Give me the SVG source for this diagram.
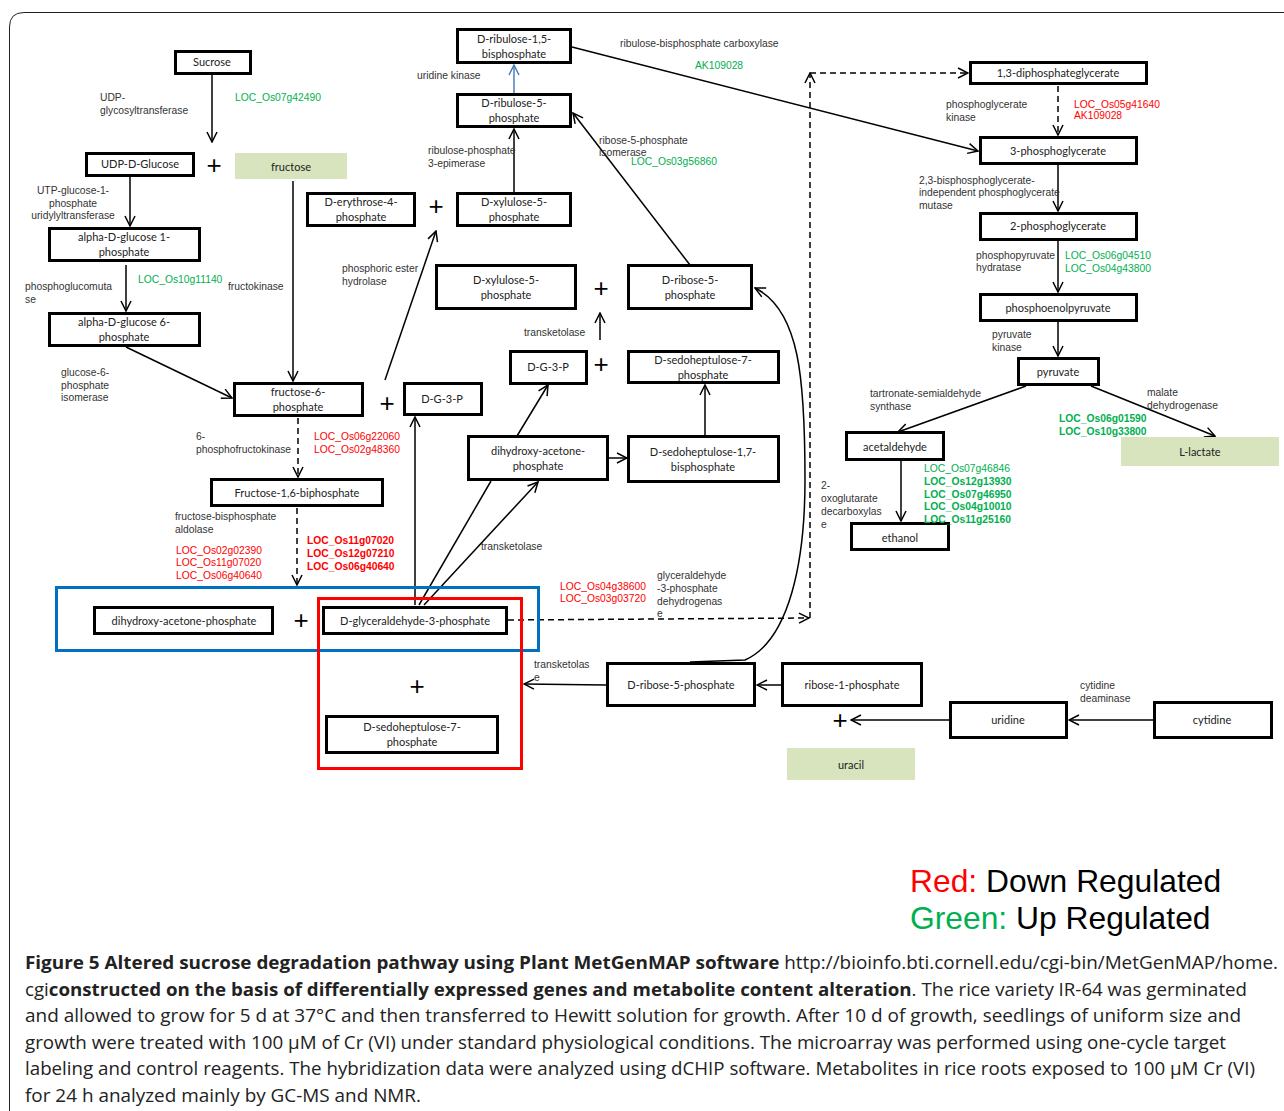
<svg xmlns="http://www.w3.org/2000/svg" width="1284" height="1111" viewBox="0 0 1284 1111">
<defs>
<marker id="ah" viewBox="0 0 12 12" refX="11" refY="6" markerWidth="12" markerHeight="12" orient="auto" markerUnits="userSpaceOnUse">
<path d="M1,1 L11,6 L1,11" fill="none" stroke="#000" stroke-width="1.5"/>
</marker>
<marker id="ahb" viewBox="0 0 12 12" refX="11" refY="6" markerWidth="12" markerHeight="12" orient="auto" markerUnits="userSpaceOnUse">
<path d="M1,1 L11,6 L1,11" fill="none" stroke="#4a7ebb" stroke-width="1.5"/>
</marker>
<style>
.box{fill:#fff;stroke:#000;stroke-width:3}
.gbox{fill:#d7e4bd;stroke:none}
.nt{font-family:Lato,"Liberation Sans",sans-serif;font-size:11px;fill:#222;text-anchor:middle}
.lb{font-family:"Liberation Sans",Arial,sans-serif;font-size:10.3px;fill:#333}
.g{font-family:"Liberation Sans",Arial,sans-serif;font-size:10.3px;fill:#00b050}
.r{font-family:"Liberation Sans",Arial,sans-serif;font-size:10.3px;fill:#ff0000}
.b{font-weight:bold}
.ln{fill:none;stroke:#000;stroke-width:1.5}
.dl{fill:none;stroke:#000;stroke-width:1.5;stroke-dasharray:6,4}
.plus{font-family:"Liberation Sans",Arial,sans-serif;font-size:26px;fill:#000;text-anchor:middle}
.cap{font-family:"Open Sans","Liberation Sans",sans-serif;font-size:18px;fill:#222}
</style>
</defs>
<rect width="1284" height="1111" fill="#fff"/>
<path d="M9.5,1111 L9.5,27 Q9.5,12.5 24,12.5 L1284,12.5" fill="none" stroke="#222" stroke-width="1"/>

<g id="connectors">
<line class="ln" x1="212" y1="74" x2="212" y2="142" marker-end="url(#ah)"/>
<line class="ln" x1="130" y1="176" x2="130" y2="226" marker-end="url(#ah)"/>
<line class="ln" x1="126" y1="265" x2="126" y2="311" marker-end="url(#ah)"/>
<line class="ln" x1="126" y1="347" x2="232" y2="398" marker-end="url(#ah)"/>
<line class="ln" x1="293" y1="181" x2="293" y2="381" marker-end="url(#ah)"/>
<line class="dl" x1="298" y1="418" x2="298" y2="477" marker-end="url(#ah)"/>
<line class="dl" x1="297" y1="508" x2="297" y2="585" marker-end="url(#ah)"/>
<line class="ln" x1="415" y1="605" x2="415" y2="417" marker-end="url(#ah)"/>
<line class="ln" x1="385" y1="380" x2="436" y2="231" marker-end="url(#ah)"/>
<line class="ln" x1="514" y1="192" x2="514" y2="129" marker-end="url(#ah)"/>
<line x1="514" y1="93" x2="514" y2="65" stroke="#4a7ebb" stroke-width="1.5" marker-end="url(#ahb)"/>
<line class="ln" x1="690" y1="265" x2="573" y2="113" marker-end="url(#ah)"/>
<line class="ln" x1="572" y1="47" x2="978" y2="151" marker-end="url(#ah)"/>
<line class="dl" x1="1058" y1="86" x2="1058" y2="135" marker-end="url(#ah)"/>
<line class="ln" x1="1058" y1="165" x2="1058" y2="211" marker-end="url(#ah)"/>
<line class="ln" x1="1058" y1="241" x2="1058" y2="292" marker-end="url(#ah)"/>
<line class="ln" x1="1058" y1="322" x2="1058" y2="356" marker-end="url(#ah)"/>
<line class="ln" x1="1026" y1="386" x2="898" y2="432" marker-end="url(#ah)"/>
<line class="ln" x1="1091" y1="386" x2="1215" y2="436" marker-end="url(#ah)"/>
<line class="ln" x1="901" y1="461" x2="901" y2="521" marker-end="url(#ah)"/>
<line class="dl" x1="508" y1="620" x2="809" y2="618" marker-end="url(#ah)"/>
<line class="dl" x1="810" y1="618" x2="810" y2="73" marker-end="url(#ah)"/>
<line class="dl" x1="810" y1="73" x2="968" y2="73" marker-end="url(#ah)"/>
<line class="ln" x1="419" y1="605" x2="491" y2="481"/>
<line class="ln" x1="517" y1="436" x2="548" y2="385" marker-end="url(#ah)"/>
<line class="ln" x1="424" y1="605" x2="538" y2="482" marker-end="url(#ah)"/>
<line class="ln" x1="609" y1="458" x2="627" y2="458" marker-end="url(#ah)"/>
<line class="ln" x1="705" y1="436" x2="705" y2="385" marker-end="url(#ah)"/>
<line class="ln" x1="600" y1="340" x2="600" y2="313" marker-end="url(#ah)"/>
<path class="ln" d="M690,662 L745,660 C790,640 805,560 805,480 C805,380 800,310 755,288" marker-end="url(#ah)"/>
<line class="ln" x1="606" y1="685" x2="524" y2="684" marker-end="url(#ah)"/>
<line class="ln" x1="781" y1="685" x2="757" y2="685" marker-end="url(#ah)"/>
<line class="ln" x1="1153" y1="720" x2="1069" y2="720" marker-end="url(#ah)"/>
<line class="ln" x1="949" y1="720" x2="851" y2="720" marker-end="url(#ah)"/>
</g>

<g id="n-sucrose"><rect class="box" x="175.5" y="51.5" width="75" height="22"/><text class="nt" x="212" y="66">Sucrose</text></g>
<g id="n-udpglucose"><rect class="box" x="86.5" y="153.5" width="107" height="22"/><text class="nt" x="140" y="168">UDP-D-Glucose</text></g>
<g id="n-fructose"><rect class="gbox" x="235" y="153" width="112" height="26"/><text class="nt" x="291" y="171">fructose</text></g>
<g id="n-ag1p"><rect class="box" x="49.5" y="228.5" width="150" height="32"/><text class="nt" x="124" y="241">alpha-D-glucose 1-</text><text class="nt" x="124" y="256">phosphate</text></g>
<g id="n-ag6p"><rect class="box" x="49.5" y="313.5" width="150" height="32"/><text class="nt" x="124" y="326">alpha-D-glucose 6-</text><text class="nt" x="124" y="341">phosphate</text></g>
<g id="n-f6p"><rect class="box" x="234.5" y="383.5" width="128" height="32"/><text class="nt" x="298" y="396">fructose-6-</text><text class="nt" x="298" y="411">phosphate</text></g>
<g id="n-dg3p1"><rect class="box" x="404.5" y="383.5" width="77" height="31"/><text class="nt" x="442" y="403">D-G-3-P</text></g>
<g id="n-f16bp"><rect class="box" x="211.5" y="479.5" width="171" height="26"/><text class="nt" x="297" y="497">Fructose-1,6-biphosphate</text></g>
<g id="n-e4p"><rect class="box" x="307.5" y="193.5" width="107" height="32"/><text class="nt" x="361" y="206">D-erythrose-4-</text><text class="nt" x="361" y="221">phosphate</text></g>
<g id="n-rubp"><rect class="box" x="457.5" y="29.5" width="113" height="33"/><text class="nt" x="514" y="43">D-ribulose-1,5-</text><text class="nt" x="514" y="58">bisphosphate</text></g>
<g id="n-ru5p"><rect class="box" x="457.5" y="94.5" width="113" height="32"/><text class="nt" x="514" y="107">D-ribulose-5-</text><text class="nt" x="514" y="122">phosphate</text></g>
<g id="n-xu5p1"><rect class="box" x="457.5" y="193.5" width="113" height="32"/><text class="nt" x="514" y="206">D-xylulose-5-</text><text class="nt" x="514" y="221">phosphate</text></g>
<g id="n-xu5p2"><rect class="box" x="436.5" y="265.5" width="139" height="43"/><text class="nt" x="506" y="284">D-xylulose-5-</text><text class="nt" x="506" y="299">phosphate</text></g>
<g id="n-r5p1"><rect class="box" x="628.5" y="265.5" width="123" height="43"/><text class="nt" x="690" y="284">D-ribose-5-</text><text class="nt" x="690" y="299">phosphate</text></g>
<g id="n-dg3p2"><rect class="box" x="510.5" y="351.5" width="76" height="32"/><text class="nt" x="548" y="371">D-G-3-P</text></g>
<g id="n-s7p1"><rect class="box" x="628.5" y="351.5" width="150" height="31"/><text class="nt" x="703" y="364">D-sedoheptulose-7-</text><text class="nt" x="703" y="379">phosphate</text></g>
<g id="n-dhap1"><rect class="box" x="468.5" y="436.5" width="139" height="43"/><text class="nt" x="538" y="455">dihydroxy-acetone-</text><text class="nt" x="538" y="470">phosphate</text></g>
<g id="n-s17bp"><rect class="box" x="628.5" y="436.5" width="150" height="45"/><text class="nt" x="703" y="456">D-sedoheptulose-1,7-</text><text class="nt" x="703" y="471">bisphosphate</text></g>
<g id="n-13dpg"><rect class="box" x="970.5" y="62.5" width="176" height="21"/><text class="nt" x="1058" y="77">1,3-diphosphateglycerate</text></g>
<g id="n-3pg"><rect class="box" x="980.5" y="137.5" width="156" height="26"/><text class="nt" x="1058" y="155">3-phosphoglycerate</text></g>
<g id="n-2pg"><rect class="box" x="980.5" y="213.5" width="156" height="26"/><text class="nt" x="1058" y="230">2-phosphoglycerate</text></g>
<g id="n-pep"><rect class="box" x="980.5" y="294.5" width="156" height="26"/><text class="nt" x="1058" y="312">phosphoenolpyruvate</text></g>
<g id="n-pyruvate"><rect class="box" x="1018.5" y="358.5" width="80" height="26"/><text class="nt" x="1058" y="376">pyruvate</text></g>
<g id="n-acetaldehyde"><rect class="box" x="846.5" y="432.5" width="97" height="27"/><text class="nt" x="895" y="451">acetaldehyde</text></g>
<g id="n-ethanol"><rect class="box" x="851.5" y="523.5" width="97" height="26"/><text class="nt" x="900" y="542">ethanol</text></g>
<g id="n-llactate"><rect class="gbox" x="1121" y="437" width="158" height="29"/><text class="nt" x="1200" y="456">L-lactate</text></g>
<g id="n-bluebox"><rect x="56.5" y="587.5" width="482" height="63" fill="none" stroke="#0070c0" stroke-width="3"/></g>
<g id="n-redbox"><rect x="318.5" y="598.5" width="203" height="170" fill="none" stroke="#ff0000" stroke-width="3"/></g>
<g id="n-dhap2"><rect class="box" x="94.5" y="607.5" width="178" height="26"/><text class="nt" x="184" y="625">dihydroxy-acetone-phosphate</text></g>
<g id="n-gap"><rect class="box" x="323.5" y="607.5" width="183" height="26"/><text class="nt" x="415" y="625">D-glyceraldehyde-3-phosphate</text></g>
<g id="n-s7p2"><rect class="box" x="326.5" y="716.5" width="171" height="36"/><text class="nt" x="412" y="731">D-sedoheptulose-7-</text><text class="nt" x="412" y="746">phosphate</text></g>
<g id="n-r5p2"><rect class="box" x="607.5" y="663.5" width="147" height="42"/><text class="nt" x="681" y="689">D-ribose-5-phosphate</text></g>
<g id="n-r1p"><rect class="box" x="782.5" y="663.5" width="139" height="42"/><text class="nt" x="852" y="689">ribose-1-phosphate</text></g>
<g id="n-uridine"><rect class="box" x="950.5" y="702.5" width="116" height="35"/><text class="nt" x="1008" y="724">uridine</text></g>
<g id="n-cytidine"><rect class="box" x="1154.5" y="702.5" width="117" height="35"/><text class="nt" x="1212" y="724">cytidine</text></g>
<g id="n-uracil"><rect class="gbox" x="787" y="748" width="128" height="32"/><text class="nt" x="851" y="769">uracil</text></g>

<g id="plus-signs">
<text class="plus" x="214" y="174">+</text>
<text class="plus" x="436" y="215">+</text>
<text class="plus" x="601" y="297">+</text>
<text class="plus" x="601" y="373">+</text>
<text class="plus" x="387" y="412">+</text>
<text class="plus" x="301" y="629">+</text>
<text class="plus" x="417" y="695">+</text>
<text class="plus" x="840" y="729">+</text>
</g>

<g id="labels">
<text class="lb" x="100" y="101">UDP-</text>
<text class="lb" x="100" y="114">glycosyltransferase</text>
<text class="g" x="235" y="101">LOC_Os07g42490</text>
<text class="lb" x="73" y="194" text-anchor="middle">UTP-glucose-1-</text>
<text class="lb" x="73" y="207" text-anchor="middle">phosphate</text>
<text class="lb" x="73" y="219" text-anchor="middle">uridylyltransferase</text>
<text class="lb" x="25" y="290">phosphoglucomuta</text>
<text class="lb" x="25" y="303">se</text>
<text class="g" x="138" y="283">LOC_Os10g11140</text>
<text class="lb" x="228" y="290">fructokinase</text>
<text class="lb" x="342" y="272">phosphoric ester</text>
<text class="lb" x="342" y="285">hydrolase</text>
<text class="lb" x="61" y="376">glucose-6-</text>
<text class="lb" x="61" y="389">phosphate</text>
<text class="lb" x="61" y="401">isomerase</text>
<text class="lb" x="196" y="440">6-</text>
<text class="lb" x="196" y="453">phosphofructokinase</text>
<text class="r" x="314" y="440">LOC_Os06g22060</text>
<text class="r" x="314" y="453">LOC_Os02g48360</text>
<text class="lb" x="175" y="520">fructose-bisphosphate</text>
<text class="lb" x="175" y="533">aldolase</text>
<text class="r" x="176" y="554">LOC_Os02g02390</text>
<text class="r" x="176" y="566">LOC_Os11g07020</text>
<text class="r" x="176" y="579">LOC_Os06g40640</text>
<text class="r b" x="307" y="544">LOC_Os11g07020</text>
<text class="r b" x="307" y="557">LOC_Os12g07210</text>
<text class="r b" x="307" y="570">LOC_Os06g40640</text>
<text class="lb" x="417" y="79">uridine kinase</text>
<text class="lb" x="428" y="154">ribulose-phosphate</text>
<text class="lb" x="428" y="167">3-epimerase</text>
<text class="lb" x="620" y="47">ribulose-bisphosphate carboxylase</text>
<text class="g" x="695" y="69">AK109028</text>
<text class="lb" x="599" y="144">ribose-5-phosphate</text>
<text class="lb" x="599" y="156">isomerase</text>
<text class="g" x="631" y="165">LOC_Os03g56860</text>
<text class="lb" x="524" y="336">transketolase</text>
<text class="lb" x="481" y="550">transketolase</text>
<text class="r" x="560" y="590">LOC_Os04g38600</text>
<text class="r" x="560" y="602">LOC_Os03g03720</text>
<text class="lb" x="657" y="579">glyceraldehyde</text>
<text class="lb" x="657" y="592">-3-phosphate</text>
<text class="lb" x="657" y="605">dehydrogenas</text>
<text class="lb" x="657" y="617">e</text>
<text class="lb" x="534" y="668">transketolas</text>
<text class="lb" x="534" y="681">e</text>
<text class="lb" x="946" y="108">phosphoglycerate</text>
<text class="lb" x="946" y="121">kinase</text>
<text class="r" x="1074" y="108">LOC_Os05g41640</text>
<text class="r" x="1074" y="119">AK109028</text>
<text class="lb" x="919" y="184">2,3-bisphosphoglycerate-</text>
<text class="lb" x="919" y="196">independent phosphoglycerate</text>
<text class="lb" x="919" y="209">mutase</text>
<text class="lb" x="976" y="259">phosphopyruvate</text>
<text class="lb" x="976" y="271">hydratase</text>
<text class="g" x="1065" y="259">LOC_Os06g04510</text>
<text class="g" x="1065" y="272">LOC_Os04g43800</text>
<text class="lb" x="992" y="338">pyruvate</text>
<text class="lb" x="992" y="351">kinase</text>
<text class="lb" x="870" y="397">tartronate-semialdehyde</text>
<text class="lb" x="870" y="410">synthase</text>
<text class="lb" x="1147" y="396">malate</text>
<text class="lb" x="1147" y="409">dehydrogenase</text>
<text class="g b" x="1059" y="422">LOC_Os06g01590</text>
<text class="g b" x="1059" y="435">LOC_Os10g33800</text>
<text class="g" x="924" y="472">LOC_Os07g46846</text>
<text class="g b" x="924" y="485">LOC_Os12g13930</text>
<text class="g b" x="924" y="498">LOC_Os07g46950</text>
<text class="g b" x="924" y="510">LOC_Os04g10010</text>
<text class="g b" x="924" y="523">LOC_Os11g25160</text>
<text class="lb" x="821" y="489">2-</text>
<text class="lb" x="821" y="502">oxoglutarate</text>
<text class="lb" x="821" y="515">decarboxylas</text>
<text class="lb" x="821" y="528">e</text>
<text class="lb" x="1080" y="689">cytidine</text>
<text class="lb" x="1080" y="702">deaminase</text>
</g>

<g id="legend" font-family="'Liberation Sans',Arial,sans-serif" font-size="31.8">
<text x="910" y="892"><tspan fill="#ff0000">Red:</tspan><tspan fill="#000"> Down Regulated</tspan></text>
<text x="910" y="929"><tspan fill="#00b050">Green:</tspan><tspan fill="#000"> Up Regulated</tspan></text>
</g>

<g id="caption">
<text class="cap" x="25" y="969" textLength="1253" lengthAdjust="spacingAndGlyphs"><tspan font-weight="bold">Figure 5 Altered sucrose degradation pathway using Plant MetGenMAP software</tspan> http://bioinfo.bti.cornell.edu/cgi-bin/MetGenMAP/home.</text>
<text class="cap" x="25" y="996" textLength="1222" lengthAdjust="spacingAndGlyphs">cgi<tspan font-weight="bold">constructed on the basis of differentially expressed genes and metabolite content alteration</tspan>. The rice variety IR-64 was germinated</text>
<text class="cap" x="25" y="1022" textLength="1216" lengthAdjust="spacingAndGlyphs">and allowed to grow for 5 d at 37°C and then transferred to Hewitt solution for growth. After 10 d of growth, seedlings of uniform size and</text>
<text class="cap" x="25" y="1049" textLength="1201" lengthAdjust="spacingAndGlyphs">growth were treated with 100 µM of Cr (VI) under standard physiological conditions. The microarray was performed using one-cycle target</text>
<text class="cap" x="25" y="1075" textLength="1230" lengthAdjust="spacingAndGlyphs">labeling and control reagents. The hybridization data were analyzed using dCHIP software. Metabolites in rice roots exposed to 100 µM Cr (VI)</text>
<text class="cap" x="25" y="1102" textLength="396" lengthAdjust="spacingAndGlyphs">for 24 h analyzed mainly by GC-MS and NMR.</text>
</g>
</svg>
